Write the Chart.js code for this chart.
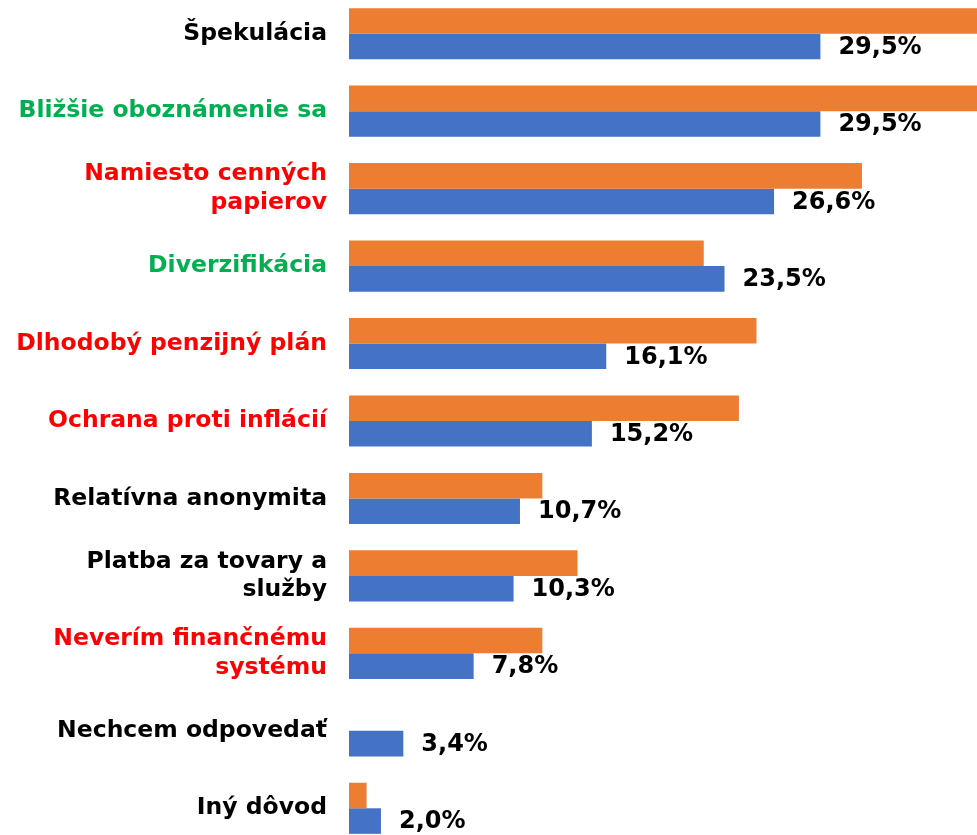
<!DOCTYPE html>
<html><head><meta charset="utf-8">
<script src="https://cdn.jsdelivr.net/npm/chart.js@4/dist/chart.umd.min.js"></script>
<style>
html,body{margin:0;padding:0;background:#fff;overflow:hidden;}
#wrap{position:absolute;left:0;top:-5px;width:977px;height:852px;}
</style></head>
<body>
<div id="wrap"><canvas id="c"></canvas></div>
<script>
const categories = [
  "Špekulácia",
  "Bližšie oboznámenie sa",
  ["Namiesto cenných", "papierov"],
  "Diverzifikácia",
  "Dlhodobý penzijný plán",
  "Ochrana proti inflácií",
  "Relatívna anonymita",
  ["Platba za tovary a", "služby"],
  ["Neverím finančnému", "systému"],
  "Nechcem odpovedať",
  "Iný dôvod"
];
const labelColors = ["#000000","#00B050","#FF0000","#00B050","#FF0000","#FF0000","#000000","#000000","#FF0000","#000000","#000000"];
const orangeValues = [40, 40, 32.1, 22.2, 25.5, 24.4, 12.1, 14.3, 12.1, 0, 1.1];
const blueValues = [29.5, 29.5, 26.6, 23.5, 16.1, 15.2, 10.7, 10.3, 7.8, 3.4, 2.0];
const blueLabels = ["29,5%","29,5%","26,6%","23,5%","16,1%","15,2%","10,7%","10,3%","7,8%","3,4%","2,0%"];

const valueLabelPlugin = {
  id: 'valueLabels',
  afterDatasetsDraw(chart) {
    const ctx = chart.ctx;
    const meta = chart.getDatasetMeta(1);
    ctx.save();
    ctx.font = 'bold 24px "DejaVu Sans"';
    ctx.fillStyle = '#000';
    ctx.textAlign = 'left';
    ctx.textBaseline = 'middle';
    meta.data.forEach((bar, i) => {
      ctx.fillText(blueLabels[i], bar.x + 18, bar.y + 1);
    });
    ctx.restore();
  }
};

new Chart(document.getElementById('c'), {
  type: 'bar',
  data: {
    labels: categories,
    datasets: [
      { label: 'A', data: orangeValues, backgroundColor: '#ED7D31', categoryPercentage: 0.66, barPercentage: 1.0 },
      { label: 'B', data: blueValues, backgroundColor: '#4472C4', categoryPercentage: 0.66, barPercentage: 1.0 }
    ]
  },
  options: {
    indexAxis: 'y',
    responsive: true,
    maintainAspectRatio: false,
    animation: false,
    layout: { padding: 0 },
    plugins: { legend: { display: false }, tooltip: { enabled: false } },
    scales: {
      x: { display: false, min: 0, max: 39.3 },
      y: {
        grid: { display: false, drawTicks: false },
        border: { display: false },
        afterFit(s) { s.width = 349; s.paddingTop = 0; s.paddingBottom = 0; },
        ticks: {
          padding: 22,
          color: (c) => labelColors[c.index],
          font: { family: 'DejaVu Sans', weight: 'bold', size: 23.5, lineHeight: 1.22 }
        }
      }
    }
  },
  plugins: [valueLabelPlugin]
});
</script>
</body></html>
